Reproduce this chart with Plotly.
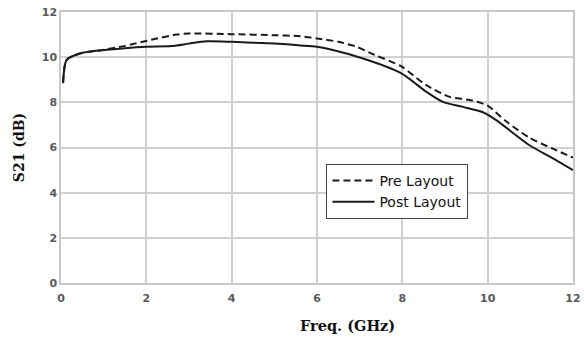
import plotly.graph_objects as go

freq_pre = [0.05, 0.13, 0.44, 0.91, 1.5, 2.0, 2.7, 3.0, 4.0, 5.0, 5.6, 6.0, 6.5, 6.93, 7.35, 7.97, 8.56, 9.11, 9.5, 9.8, 10.0, 10.44, 10.98, 11.5, 12.0]
s21_pre = [8.9, 9.87, 10.16, 10.3, 10.5, 10.72, 11.0, 11.05, 11.02, 10.97, 10.93, 10.83, 10.68, 10.46, 10.1, 9.6, 8.76, 8.24, 8.13, 8.0, 7.85, 7.15, 6.43, 5.97, 5.55]

freq_post = [0.05, 0.13, 0.44, 0.91, 1.5, 2.0, 2.6, 3.0, 3.41, 4.0, 5.0, 5.6, 6.0, 6.3, 7.08, 7.96, 8.56, 8.95, 9.42, 9.89, 10.2, 10.98, 11.5, 12.0]
s21_post = [8.85, 9.87, 10.16, 10.3, 10.4, 10.46, 10.49, 10.6, 10.7, 10.68, 10.6, 10.52, 10.46, 10.35, 9.94, 9.3, 8.47, 8.02, 7.8, 7.56, 7.21, 6.1, 5.55, 5.0]

x_ticks = [0, 2, 4, 6, 8, 10, 12]
y_ticks = [0, 2, 4, 6, 8, 10, 12]

fig = go.Figure()
fig.add_trace(go.Scatter(x=freq_pre, y=s21_pre, mode="lines", name="Pre Layout",
                         line=dict(color="#1a1a1a", width=2, dash="7px,4px", shape="spline", smoothing=0.7)))
fig.add_trace(go.Scatter(x=freq_post, y=s21_post, mode="lines", name="Post Layout",
                         line=dict(color="#1a1a1a", width=2, shape="spline", smoothing=0.7)))

tickfont = dict(family="DejaVu Sans", size=11, color="#595959", weight="bold")
axis_common = dict(showgrid=True, gridcolor="#d0d0d0", gridwidth=1.5,
                   showline=True, linecolor="#c8c8c8", linewidth=1.5, mirror=True,
                   zeroline=False, ticks="", tickfont=tickfont, automargin=False)

fig.update_layout(
    width=584, height=338,
    margin=dict(l=61, r=11, t=12, b=55),
    paper_bgcolor="white", plot_bgcolor="white",
    xaxis=dict(range=[0, 12], tickvals=x_ticks, ticktext=[str(v) for v in x_ticks],
               ticklabelstandoff=4, **axis_common),
    yaxis=dict(range=[0, 12], tickvals=y_ticks, ticktext=[str(v) for v in y_ticks],
               title=dict(text="S21 (dB)", font=dict(family="DejaVu Serif", size=14, color="#111", weight="bold"), standoff=14),
               **axis_common),
    legend=dict(x=0.518, y=0.44, xanchor="left", yanchor="top",
                bgcolor="white", bordercolor="#444", borderwidth=1.2,
                font=dict(family="DejaVu Sans", size=14, color="#111"),
                tracegroupgap=0, itemwidth=42),
    showlegend=True,
    annotations=[dict(text="Freq. (GHz)", xref="paper", yref="paper", x=0.559, y=-0.155,
                      xanchor="center", yanchor="middle", showarrow=False,
                      font=dict(family="DejaVu Serif", size=14.5, color="#111", weight="bold"))],
)

fig.write_html("out.html")
